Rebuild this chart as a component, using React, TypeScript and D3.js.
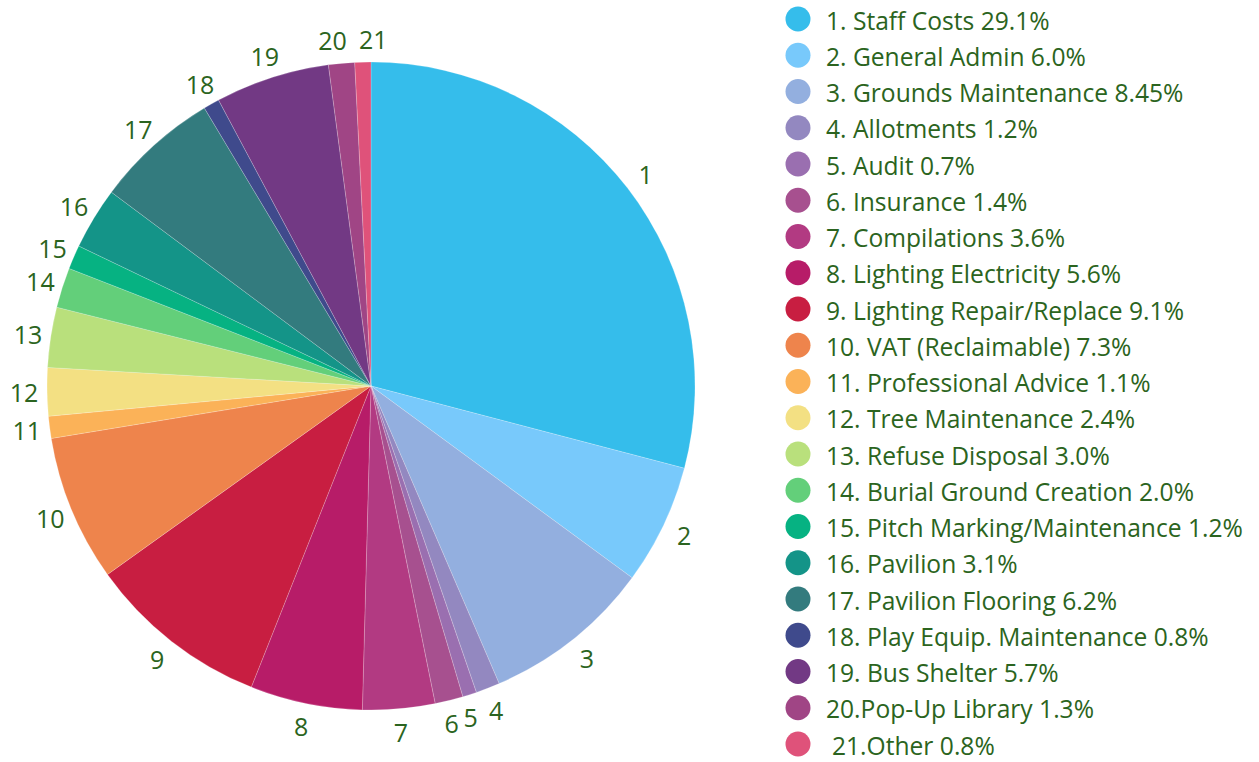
import * as d3 from "d3";
import React from "react";

const categories = [
  "Staff Costs", "General Admin", "Grounds Maintenance", "Allotments", "Audit",
  "Insurance", "Compilations", "Lighting Electricity", "Lighting Repair/Replace",
  "VAT (Reclaimable)", "Professional Advice", "Tree Maintenance", "Refuse Disposal",
  "Burial Ground Creation", "Pitch Marking/Maintenance", "Pavilion", "Pavilion Flooring",
  "Play Equip. Maintenance", "Bus Shelter", "Pop-Up Library", "Other",
];
const values = [29.1, 6.0, 8.45, 1.2, 0.7, 1.4, 3.6, 5.6, 9.1, 7.3, 1.1, 2.4, 3.0, 2.0, 1.2, 3.1, 6.2, 0.8, 5.7, 1.3, 0.8];
const percentLabels = ["29.1%", "6.0%", "8.45%", "1.2%", "0.7%", "1.4%", "3.6%", "5.6%", "9.1%", "7.3%", "1.1%", "2.4%", "3.0%", "2.0%", "1.2%", "3.1%", "6.2%", "0.8%", "5.7%", "1.3%", "0.8%"];
const colors = [
  "#35bdeb", "#78c9fb", "#93afdf", "#9388c0", "#9a6fb0", "#a7508f", "#b23a82",
  "#b71c68", "#c81e41", "#ee844c", "#fbb258", "#f3e083", "#b9e07c", "#63cf7a",
  "#06b282", "#149488", "#337b7e", "#3f4a8c", "#723984", "#a04585", "#df527a",
];

const W = 1259;
const H = 762;
const cx = 371;
const cy = 386;
const radius = 324;
const labelRadius = 347;
const textColor = "#2b6420";
const font = "'Open Sans', sans-serif";

// small sideways nudges so the crowded labels at the top don't collide
const labelNudge: Record<number, number> = { 19: -7, 20: 11, 4: -6, 5: -3 };

export default function App() {
  const pie = d3.pie<number>().sort(null).value((d) => d);
  const arcs = pie(values);
  const arc = d3.arc<d3.PieArcDatum<number>>().innerRadius(0).outerRadius(radius);
  const labelArc = d3.arc<d3.PieArcDatum<number>>().innerRadius(labelRadius).outerRadius(labelRadius);

  const legendY = d3.scaleLinear().domain([0, categories.length - 1]).range([19, 744]);

  return (
    <svg width={W} height={H} style={{ position: "absolute", left: 0, top: 0, background: "#fff" }}>
      <g transform={`translate(${cx},${cy})`}>
        {arcs.map((a, i) => (
          <path key={i} d={arc(a) || ""} fill={colors[i]} stroke="#ffffff" strokeOpacity={0.25} strokeWidth={0.8} />
        ))}
        {arcs.map((a, i) => {
          const [x, y] = labelArc.centroid(a);
          return (
            <text key={i} x={x + (labelNudge[i] || 0)} y={y} textAnchor="middle" dominantBaseline="central"
              fontFamily={font} fontSize={25} fill={textColor}>
              {i + 1}
            </text>
          );
        })}
      </g>
      <g>
        {categories.map((c, i) => {
          const y = legendY(i);
          const label = i >= 19 ? `${i + 1}.${c} ${percentLabels[i]}` : `${i + 1}. ${c} ${percentLabels[i]}`;
          return (
            <g key={c} transform={`translate(0,${y})`}>
              <circle cx={798} cy={0} r={12.5} fill={colors[i]} />
              <text x={i === 20 ? 832 : 826} y={1} dominantBaseline="central"
                fontFamily={font} fontSize={24.6} fill={textColor}>
                {label}
              </text>
            </g>
          );
        })}
      </g>
    </svg>
  );
}
